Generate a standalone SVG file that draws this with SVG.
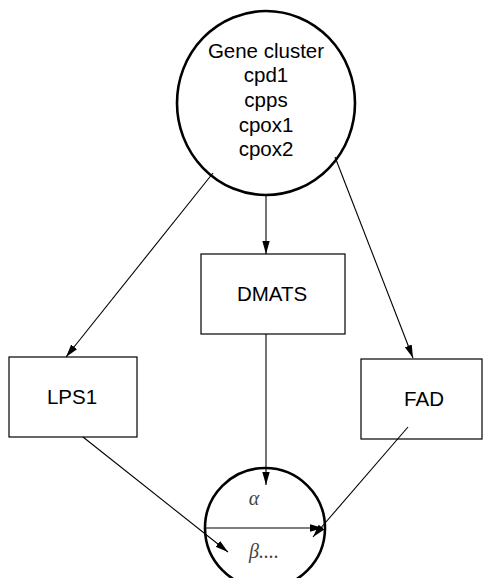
<svg xmlns="http://www.w3.org/2000/svg" width="483" height="578" viewBox="0 0 483 578">
<style>
  .bg{fill:#fff}
  .box{fill:#fff;stroke:#000;stroke-width:1.2}
  .circ{fill:#fff;stroke:#000;stroke-width:2.6}
  .t{font-family:"Liberation Sans",Arial,sans-serif;font-size:20.5px;fill:#000;text-anchor:middle}
  .g{font-family:"Liberation Serif","Times New Roman",serif;font-style:italic;font-size:20px;fill:#444;text-anchor:middle}
  .e{fill:none;stroke:#000;stroke-width:1.1}
</style>
<defs>
  <marker id="ah" markerUnits="userSpaceOnUse" markerWidth="14" markerHeight="9" refX="13" refY="3.7" orient="auto">
    <path d="M0,0 L13,3.7 L0,7.4 z" fill="#000"/>
  </marker>
</defs>
<rect class="bg" x="0" y="0" width="483" height="578"/>
<g id="gene-cluster">
  <ellipse class="circ" cx="266" cy="103" rx="89" ry="92"/>
  <text class="t" x="266" y="58">Gene cluster</text>
  <text class="t" x="266" y="82">cpd1</text>
  <text class="t" x="266" y="107">cpps</text>
  <text class="t" x="266" y="132">cpox1</text>
  <text class="t" x="266" y="156">cpox2</text>
</g>
<g id="dmats">
  <rect class="box" x="201" y="254" width="144" height="80"/>
  <text class="t" x="272" y="301">DMATS</text>
</g>
<g id="lps1">
  <rect class="box" x="9" y="357" width="128" height="80"/>
  <text class="t" x="72" y="404">LPS1</text>
</g>
<g id="fad">
  <rect class="box" x="361" y="359" width="121" height="80"/>
  <text class="t" x="424" y="406">FAD</text>
</g>
<g id="product">
  <circle class="circ" cx="265" cy="528" r="60"/>
  <text class="g" x="254" y="505">α</text>
  <text class="g" x="264" y="558">β....</text>
</g>
<g id="connectors">
  <line class="e" x1="213" y1="173" x2="66" y2="357" marker-end="url(#ah)"/>
  <line class="e" x1="335" y1="157" x2="413" y2="358" marker-end="url(#ah)"/>
  <line class="e" x1="266" y1="195" x2="266" y2="254" marker-end="url(#ah)"/>
  <line class="e" x1="266" y1="334" x2="266" y2="485" marker-end="url(#ah)"/>
  <line class="e" x1="83" y1="437" x2="228" y2="552" marker-end="url(#ah)"/>
  <line class="e" x1="408" y1="427" x2="313" y2="537" marker-end="url(#ah)"/>
  <line class="e" x1="205" y1="528" x2="323" y2="528" marker-end="url(#ah)"/>
</g>
</svg>
